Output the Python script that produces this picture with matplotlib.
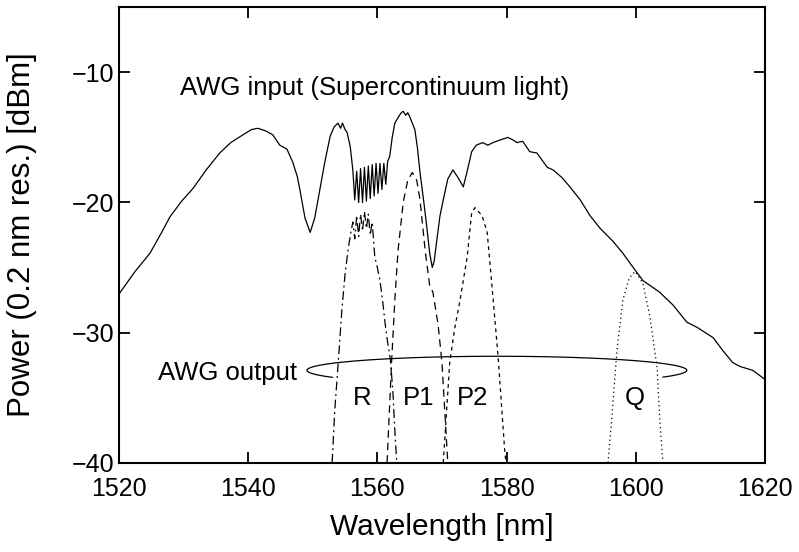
import numpy as np
import matplotlib
matplotlib.use("Agg")
import matplotlib.pyplot as plt

plt.rcParams['font.family'] = ['Liberation Sans', 'DejaVu Sans']

# AWG input (supercontinuum) spectrum
input_nm = [1520.0, 1520.2, 1522.5, 1524.8, 1526.5, 1527.9, 1529.7, 1531.5, 1533.5,
            1535.6, 1537.3, 1539.2, 1540.5, 1541.5, 1542.7, 1543.8, 1544.9, 1546.0,
            1546.9, 1547.6, 1548.0, 1548.8, 1549.6, 1550.3, 1551.1, 1551.9, 1552.7,
            1553.3, 1553.9, 1554.3, 1554.6, 1555.0, 1555.3, 1555.8, 1556.2,
            1556.5, 1556.8, 1557.1, 1557.4, 1557.7, 1558.0, 1558.3, 1558.6, 1558.9,
            1559.2, 1559.5, 1559.8, 1560.1, 1560.4, 1560.7, 1561.0, 1561.3, 1561.6,
            1561.9, 1562.3, 1562.7, 1563.3, 1563.7, 1564.0, 1564.4, 1564.7, 1565.0,
            1565.8, 1566.2, 1566.6, 1567.2, 1567.7, 1568.1, 1568.5, 1568.8, 1569.2,
            1569.7, 1570.2, 1570.9, 1571.7, 1572.5, 1573.3, 1573.9, 1574.6, 1575.3,
            1576.3, 1577.1, 1577.9, 1579.0, 1580.2, 1581.0, 1581.6, 1582.5, 1583.6,
            1584.7, 1586.3, 1587.2, 1588.6, 1589.8, 1591.4, 1592.9, 1594.5, 1596.5,
            1598.0, 1599.6, 1601.1, 1603.7, 1605.8, 1607.9, 1609.5, 1612.0, 1613.5,
            1615.0, 1616.1, 1618.1, 1620.0]
input_db = [-27.1, -26.9, -25.3, -23.9, -22.4, -21.1, -19.9, -18.9, -17.5,
            -16.2, -15.4, -14.8, -14.4, -14.3, -14.5, -14.8, -15.6, -15.9,
            -16.9, -18.0, -19.0, -21.2, -22.3, -21.2, -19.0, -16.8, -14.9,
            -14.2, -13.9, -14.3, -13.9, -14.4, -14.6, -15.7, -17.5,
            -19.8, -17.6, -20.0, -17.4, -20.0, -17.3, -19.9, -17.2, -19.7,
            -17.1, -19.5, -17.0, -19.3, -17.0, -19.0, -17.0, -18.6, -16.8,
            -16.5, -15.0, -13.9, -13.4, -13.1, -13.0, -13.3, -13.1, -13.4,
            -14.4, -15.8, -17.7, -20.0, -22.1, -23.9, -25.0, -24.5, -22.9,
            -21.0, -19.8, -18.2, -17.5, -18.1, -18.8, -17.6, -16.1, -15.6,
            -15.4, -15.6, -15.4, -15.2, -15.0, -15.2, -15.4, -15.3, -16.1,
            -16.2, -17.3, -17.5, -18.1, -18.8, -19.8, -21.0, -22.0, -23.0,
            -23.9, -25.0, -26.0, -26.9, -27.9, -29.2, -29.6, -30.4, -31.4,
            -32.3, -32.6, -32.9, -33.6]

# AWG output channels
r_nm = [1553.0, 1553.4, 1553.9, 1554.5, 1555.0, 1555.5, 1555.9, 1556.2, 1556.5,
        1556.8, 1557.1, 1557.4, 1557.7, 1558.0, 1558.3, 1558.6, 1558.9, 1559.2,
        1559.6, 1560.0, 1560.4, 1560.8, 1561.2, 1561.6, 1562.0, 1562.4, 1562.7, 1563.0]
r_db = [-40.0, -36.0, -32.6, -28.3, -25.5, -23.5, -22.3, -21.5, -22.8,
        -21.0, -22.6, -20.9, -22.2, -20.7, -22.0, -20.9, -22.5, -21.5,
        -24.2, -25.0, -26.0, -27.5, -29.3, -30.8, -32.0, -34.5, -37.5, -40.0]

p1_nm = [1561.5, 1562.2, 1562.7, 1563.2, 1564.0, 1564.7, 1565.4, 1566.1, 1566.6,
         1567.4, 1568.1, 1568.6, 1569.4, 1570.0, 1570.5, 1570.9]
p1_db = [-40.0, -32.3, -27.5, -23.7, -20.0, -18.3, -17.7, -18.3, -19.8,
         -23.7, -26.4, -26.9, -29.4, -32.3, -36.6, -40.0]

p2_nm = [1570.2, 1571.2, 1572.0, 1572.8, 1573.9, 1574.6, 1575.1, 1576.2, 1577.0,
         1577.7, 1578.7, 1579.7, 1579.9]
p2_db = [-40.0, -32.3, -29.6, -27.5, -24.2, -20.8, -20.4, -21.0, -22.3,
         -26.2, -31.9, -39.0, -40.0]

q_nm = [1595.7, 1596.3, 1597.1, 1598.0, 1599.0, 1599.9, 1601.1, 1602.2, 1603.3,
        1603.7, 1604.2]
q_db = [-40.0, -36.5, -31.3, -27.5, -25.8, -25.3, -26.2, -28.8, -32.7, -36.6, -40.0]

channel_labels = ['R', 'P1', 'P2', 'Q']
channel_label_nm = [1557.7, 1566.4, 1574.8, 1599.9]

x_ticks = [1520, 1540, 1560, 1580, 1600, 1620]
y_ticks = [-40, -30, -20, -10]

fig = plt.figure(figsize=(7.99, 5.52), dpi=100)
ax = fig.add_axes([0.1489, 0.1618, 0.8085, 0.8250])

lw = 0.9
ax.plot(input_nm, input_db, color='black', lw=lw)
ax.plot(r_nm, r_db, color='black', lw=lw, linestyle=(0, (7, 3, 1.5, 3)))
ax.plot(p1_nm, p1_db, color='black', lw=lw, linestyle=(0, (6, 4)))
ax.plot(p2_nm, p2_db, color='black', lw=lw, linestyle=(0, (3, 3)))
ax.plot(q_nm, q_db, color='black', lw=lw, linestyle=(0, (1, 2.5)))

# ellipse grouping the AWG output channels (open at the bottom)
cx, cy, a, b = 1578.5, -32.9, 29.4, 1.08
t = np.deg2rad(np.linspace(-29, 210, 400))
ax.plot(cx + a * np.cos(t), cy + b * np.sin(t), color='black', lw=lw)

fs = 18.5
ax.text(1529.4, -11.2, 'AWG input (Supercontinuum light)', fontsize=fs,
        ha='left', va='center')
ax.text(1526.0, -33.1, 'AWG output', fontsize=fs, ha='left', va='center')
for lab, xn in zip(channel_labels, channel_label_nm):
    ax.text(xn, -35.0, lab, fontsize=fs, ha='center', va='center')

ax.set_xlim(1520, 1620)
ax.set_ylim(-40, -5)
ax.set_xticks(x_ticks)
ax.set_yticks(y_ticks)
ax.tick_params(direction='in', top=True, right=True, length=8, width=1.3,
               labelsize=18)
ax.tick_params(axis='x', pad=10)
ax.tick_params(axis='y', pad=3.5)
for spine in ax.spines.values():
    spine.set_linewidth(1.5)

ax.set_xlabel('Wavelength [nm]', fontsize=21.5)
ax.set_ylabel('Power (0.2 nm res.) [dBm]', fontsize=22.5)
ax.xaxis.set_label_coords(0.5, -0.11)
ax.yaxis.set_label_coords(-0.127, 0.5)

fig.savefig('out.png', dpi=100)
